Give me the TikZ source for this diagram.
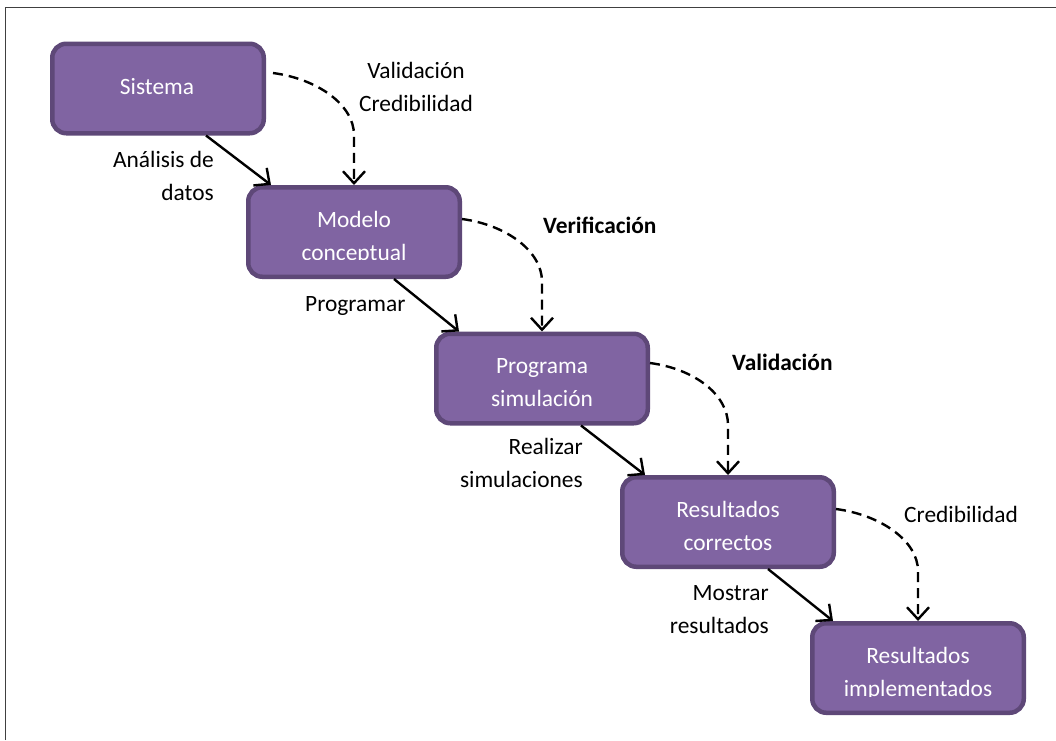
\documentclass[tikz,border=0pt]{standalone}
\usepackage{fontspec}
\setmainfont{Carlito}
\usetikzlibrary{arrows.meta,calc}
\definecolor{boxfill}{HTML}{8064A2}
\definecolor{boxedge}{HTML}{5E4878}
\definecolor{framegray}{HTML}{404040}
\begin{document}
\begin{tikzpicture}[x=1pt,y=-1pt,
  font=\fontsize{23.4}{33}\selectfont,
  box/.style={draw=boxedge, fill=boxfill, line width=4.5pt, rounded corners=14pt,
    minimum width=211.5pt, minimum height=89.5pt, inner sep=0pt},
  boxlbl/.style={text=white, align=center, anchor=base, inner sep=0pt},
  lbl/.style={inner sep=0pt},
  conn/.style={line width=2.4pt, -{Straight Barb[length=12pt,width=22pt]}},
  dconn/.style={conn, dash pattern=on 10pt off 6pt},
]
\useasboundingbox (0,0) rectangle (1056,740);
% page frame (top and left edges)
\draw[framegray, line width=1.6pt] (5.5,740) -- (5.5,7.5) -- (1056,7.5);

% process boxes
\node[box] (sis)  at (158,88.5) {};
\node[box] (mod)  at (354,232)  {};
\node[box] (prog) at (542,378.5) {};
\node[box] (rc)   at (728,522)  {};
\node[box] (ri)   at (918,668)  {};

% box texts (base anchor = baseline of the last line)
\node[boxlbl] (sis-t) at (157,94) {Sistema};
\begin{scope}
  \clip (mod.north west) rectangle ($(mod.east)+(0,27)$);
  \node[boxlbl] (mod-t) at (354,260) {Modelo\\conceptual};
\end{scope}
\node[boxlbl] (prog-t) at (542,406) {Programa\\simulación};
\node[boxlbl] (rc-t) at (728,550) {Resultados\\correctos};
\begin{scope}
  \clip (ri.north west) rectangle ($(ri.east)+(0,28)$);
  \node[boxlbl] (ri-t) at (918,696) {Resultados\\implementados};
\end{scope}

% main flow
\draw[conn] ([xshift=48pt]sis.south)  -- ([xshift=-83pt]mod.north);
\draw[conn] ([xshift=40pt]mod.south)  -- ([xshift=-83pt]prog.north);
\draw[conn] ([xshift=39pt]prog.south) -- ([xshift=-83pt]rc.north);
\draw[conn] ([xshift=40pt]rc.south)   -- ([xshift=-85pt]ri.north);

% checks between stages
\draw[dconn] ($(sis.east)+(7,-15.5)$) .. controls +(45,6) and ($(mod.north)+(0,-80)$)
  .. ($(mod.north)+(0,-50)$) -- (mod.north);
\draw[dconn] ($(mod.east)+(0,-13)$) .. controls +(45,6) and ($(prog.north)+(0,-80)$)
  .. ($(prog.north)+(0,-50)$) -- (prog.north);
\draw[dconn] ($(prog.east)+(0,-15.5)$) .. controls +(45,6) and ($(rc.north)+(0,-80)$)
  .. ($(rc.north)+(0,-50)$) -- (rc.north);
\draw[dconn] ($(rc.east)+(0,-13)$) .. controls +(45,6) and ($(ri.north)+(0,-80)$)
  .. ($(ri.north)+(0,-50)$) -- (ri.north);

% connector labels
\node[lbl, align=center, anchor=base] (l-vc) at (416,111) {Validación\\Credibilidad};
\node[lbl, align=right, anchor=base east] (l-ad) at (214,200) {Análisis de\\datos};
\node[lbl, anchor=base west] (l-ver) at (543,233) {\bfseries Verificación};
\node[lbl, anchor=base west] (l-prog) at (305,311) {Programar};
\node[lbl, anchor=base west] (l-val) at (732,370) {\bfseries Validación};
\node[lbl, align=right, anchor=base east] (l-rs) at (583,487) {Realizar\\simulaciones};
\node[lbl, anchor=base west] (l-cred) at (904,522) {Credibilidad};
\node[lbl, align=right, anchor=base east] (l-mr) at (769,633) {Mostrar\\resultados};
\end{tikzpicture}
\end{document}
